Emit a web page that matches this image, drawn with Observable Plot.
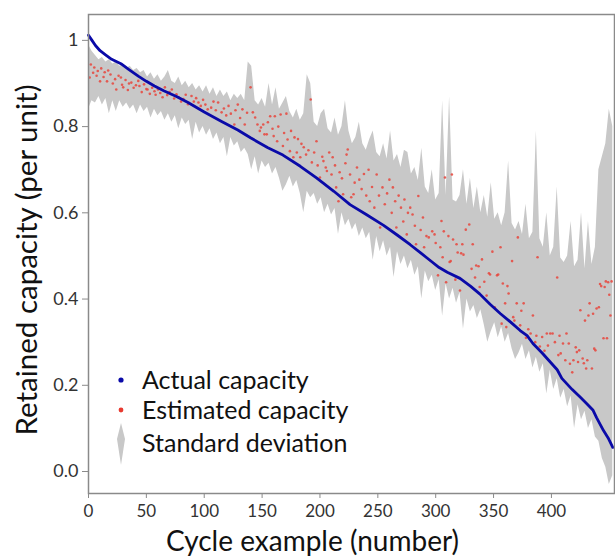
<!DOCTYPE html>
<html>
<head>
<meta charset="utf-8">
<script src="https://cdn.jsdelivr.net/npm/d3@7"></script>
<script src="https://cdn.jsdelivr.net/npm/@observablehq/plot@0.6"></script>
<style>
  html, body { margin: 0; padding: 0; background: #fff; }
  #wrap { position: relative; width: 615px; height: 559px; font-family: Lato, "Open Sans", sans-serif; }
  .lg { position: absolute; color: #111; font-size: 25px; line-height: 25px; white-space: nowrap; }
  .mk { position: absolute; }
</style>
</head>
<body>
<div id="wrap">
  <div id="chart"></div>
  <svg class="mk" style="left:114px;top:373px" width="14" height="14"><circle cx="7" cy="7" r="2.6" fill="#0a0aa8"/></svg>
  <div class="lg" style="left:142px;top:367px">Actual capacity</div>
  <svg class="mk" style="left:114px;top:403px" width="14" height="14"><circle cx="7" cy="7" r="2.4" fill="#e83a30"/></svg>
  <div class="lg" style="left:142px;top:397px">Estimated capacity</div>
  <svg class="mk" style="left:114px;top:423px" width="14" height="44"><polygon points="7,0 11,16 7,42 3,16" fill="#c8c8c8"/></svg>
  <div class="lg" style="left:142px;top:430px">Standard deviation</div>
</div>
<script>
// ---- data ----
const actualCycles = [0,3,6,10,15,20,28,35,43,50,57,65,76,86,100,115,129,140,155,168,183,197,212,226,240,255,267,278,287,295,303,310,321,330,338,347,356,365,373,379,384,392,398,405,409,418,425,431,436,439,445,449,453];
const actualValues = [1.012,1.0,0.988,0.976,0.966,0.956,0.946,0.932,0.917,0.905,0.894,0.883,0.870,0.856,0.834,0.812,0.792,0.774,0.751,0.734,0.708,0.681,0.650,0.619,0.596,0.571,0.548,0.526,0.507,0.490,0.473,0.462,0.448,0.430,0.412,0.388,0.366,0.346,0.327,0.315,0.297,0.275,0.257,0.236,0.216,0.190,0.172,0.156,0.142,0.125,0.095,0.078,0.056];

const estCycles = [1,2,4,5,7,8,10,11,13,14,16,17,19,21,23,24,26,28,29,30,32,34,35,37,39,41,43,44,46,48,50,51,53,55,57,58,60,62,64,66,68,70,72,74,76,78,80,82,84,86,89,91,93,95,97,99,101,103,106,108,110,112,115,117,119,121,123,126,127,129,131,133,135,137,140,142,144,146,148,149,151,152,154,155,157,159,160,161,163,164,166,168,169,171,172,174,175,177,178,180,181,183,184,186,188,190,192,193,195,197,198,200,202,203,205,206,208,210,211,213,214,216,217,219,220,222,223,224,226,227,229,230,232,234,236,238,240,242,243,245,247,249,251,252,254,256,258,260,262,263,265,266,268,270,272,273,275,276,278,280,282,283,285,287,289,290,292,294,295,297,299,300,302,304,305,306,307,308,309,311,312,313,314,315,317,318,319,321,322,323,324,326,329,331,332,334,335,337,338,340,342,344,346,347,349,351,353,354,356,357,358,360,361,362,363,366,367,368,370,371,373,374,376,378,380,382,384,386,387,388,390,392,394,396,397,399,401,403,405,406,407,408,410,412,413,415,416,418,419,421,422,423,424,425,427,428,429,430,431,432,433,435,436,437,438,439,441,442,443,445,446,447,448,449,450,451,452];
const estValues = [0.914,0.944,0.925,0.937,0.918,0.929,0.905,0.935,0.915,0.926,0.905,0.93,0.921,0.9,0.91,0.886,0.918,0.914,0.897,0.891,0.908,0.885,0.9,0.902,0.89,0.896,0.906,0.894,0.88,0.898,0.887,0.886,0.876,0.89,0.882,0.874,0.886,0.878,0.868,0.891,0.873,0.88,0.886,0.865,0.875,0.868,0.858,0.864,0.874,0.852,0.871,0.858,0.866,0.856,0.848,0.862,0.851,0.84,0.844,0.858,0.838,0.856,0.833,0.842,0.826,0.848,0.83,0.805,0.838,0.851,0.82,0.84,0.805,0.832,0.891,0.833,0.821,0.805,0.79,0.798,0.805,0.782,0.782,0.81,0.824,0.795,0.778,0.824,0.766,0.80,0.828,0.755,0.785,0.83,0.77,0.743,0.79,0.729,0.775,0.74,0.771,0.729,0.76,0.752,0.735,0.745,0.863,0.717,0.74,0.766,0.71,0.682,0.73,0.72,0.705,0.697,0.74,0.689,0.729,0.71,0.659,0.627,0.694,0.68,0.643,0.715,0.735,0.747,0.689,0.636,0.643,0.67,0.705,0.677,0.655,0.69,0.64,0.70,0.627,0.66,0.612,0.689,0.64,0.566,0.659,0.62,0.645,0.677,0.6,0.659,0.627,0.566,0.64,0.612,0.58,0.631,0.55,0.6,0.612,0.596,0.57,0.527,0.639,0.56,0.589,0.52,0.546,0.543,0.49,0.557,0.55,0.53,0.455,0.52,0.581,0.497,0.557,0.682,0.439,0.546,0.486,0.488,0.689,0.538,0.445,0.527,0.508,0.42,0.506,0.527,0.503,0.561,0.573,0.47,0.527,0.45,0.478,0.476,0.428,0.492,0.44,0.408,0.46,0.457,0.51,0.381,0.455,0.457,0.52,0.343,0.436,0.39,0.335,0.43,0.413,0.488,0.358,0.35,0.39,0.543,0.339,0.373,0.39,0.31,0.33,0.32,0.362,0.3,0.315,0.497,0.29,0.312,0.28,0.32,0.292,0.32,0.32,0.3,0.45,0.27,0.315,0.274,0.297,0.258,0.32,0.297,0.25,0.23,0.258,0.288,0.277,0.254,0.281,0.374,0.262,0.251,0.35,0.239,0.258,0.362,0.39,0.239,0.366,0.285,0.281,0.378,0.381,0.435,0.43,0.309,0.428,0.441,0.309,0.439,0.41,0.362,0.441];

const bandCycles = [0,3,6,9,12,15,18,21,24,27,30,33,36,39,42,45,48,51,54,57,60,63,66,69,72,75,78,81,84,87,90,93,96,99,102,105,108,111,114,117,120,123,126,129,132,135,138,141,144,147,150,153,156,159,162,165,168,171,174,177,180,183,186,189,192,195,198,201,204,207,210,213,216,219,222,225,228,231,234,237,240,243,246,249,252,255,258,261,264,267,270,273,276,279,282,285,288,291,294,297,300,303,306,309,312,315,318,321,324,327,330,333,336,339,342,345,348,351,354,357,360,363,366,369,372,375,378,381,384,387,390,393,396,399,402,405,408,411,414,417,420,423,426,429,432,435,438,441,444,447,450,453];
const bandUpper = [0.99,0.975,0.965,0.955,0.96,0.95,0.955,0.945,0.95,0.94,0.945,0.935,0.94,0.93,0.935,0.925,0.93,0.915,0.925,0.91,0.92,0.905,0.915,0.93,0.905,0.9,0.915,0.895,0.905,0.89,0.9,0.885,0.895,0.88,0.895,0.875,0.89,0.87,0.885,0.87,0.88,0.86,0.875,0.865,0.875,0.86,0.95,0.94,0.86,0.85,0.865,0.845,0.9,0.85,0.89,0.84,0.855,0.87,0.835,0.82,0.84,0.815,0.83,0.92,0.9,0.81,0.8,0.83,0.84,0.795,0.785,0.82,0.78,0.8,0.86,0.79,0.76,0.775,0.81,0.76,0.745,0.77,0.79,0.74,0.73,0.76,0.725,0.79,0.72,0.735,0.705,0.745,0.74,0.69,0.705,0.675,0.75,0.66,0.645,0.7,0.63,0.645,0.86,0.64,0.87,0.63,0.625,0.64,0.7,0.62,0.68,0.61,0.66,0.6,0.64,0.59,0.67,0.585,0.6,0.57,0.6,0.72,0.575,0.56,0.58,0.55,0.62,0.54,0.555,0.79,0.54,0.52,0.6,0.5,0.52,0.66,0.495,0.485,0.5,0.58,0.475,0.49,0.6,0.47,0.58,0.48,0.52,0.7,0.73,0.76,0.84,0.8];
const bandLower = [0.84,0.86,0.855,0.87,0.85,0.865,0.83,0.86,0.835,0.86,0.845,0.855,0.84,0.85,0.83,0.85,0.835,0.845,0.82,0.84,0.825,0.835,0.815,0.83,0.81,0.825,0.795,0.82,0.805,0.815,0.77,0.81,0.785,0.8,0.78,0.795,0.77,0.785,0.76,0.775,0.73,0.775,0.755,0.765,0.74,0.75,0.735,0.7,0.73,0.69,0.72,0.705,0.715,0.69,0.705,0.68,0.65,0.665,0.685,0.66,0.675,0.645,0.6,0.65,0.635,0.645,0.62,0.635,0.6,0.62,0.595,0.61,0.55,0.6,0.57,0.585,0.56,0.575,0.545,0.565,0.54,0.555,0.49,0.545,0.51,0.535,0.5,0.52,0.45,0.51,0.48,0.5,0.47,0.49,0.455,0.475,0.4,0.465,0.44,0.455,0.42,0.445,0.36,0.435,0.4,0.425,0.39,0.415,0.33,0.4,0.37,0.385,0.355,0.375,0.34,0.3,0.325,0.345,0.31,0.335,0.3,0.32,0.285,0.26,0.275,0.295,0.26,0.28,0.24,0.265,0.23,0.25,0.18,0.235,0.19,0.215,0.17,0.19,0.15,0.175,0.1,0.155,0.12,0.14,0.1,0.12,0.08,0.07,0.03,0.01,-0.03,-0.01];

const xTicks = [0,50,100,150,200,250,300,350,400];
const yTicks = [0,0.2,0.4,0.6,0.8,1];
const yTickLabels = ["0.0","0.2","0.4","0.6","0.8","1"];

// ---- tables ----
const actual = actualCycles.map((c,i) => ({c, v: actualValues[i]}));
const est = estCycles.map((c,i) => ({c, v: estValues[i]}));
const band = bandCycles.map((c,i) => ({c, lo: bandLower[i], hi: bandUpper[i]}));

const chart = Plot.plot({
  width: 615,
  height: 559,
  marginLeft: 88,
  marginRight: 1,
  marginTop: 14,
  marginBottom: 66,
  style: {fontFamily: "Lato, 'Open Sans', sans-serif", background: "#fff"},
  x: {domain: [0, 454.5]},
  y: {domain: [-0.051, 1.06]},
  marks: [
    Plot.areaY(band, {x: "c", y1: "lo", y2: "hi", fill: "#c8c8c8", curve: "linear"}),
    Plot.dot(est, {x: "c", y: "v", r: 1.3, fill: "#e8453c", fillOpacity: 0.85, stroke: "none"}),
    Plot.line(actual, {x: "c", y: "v", stroke: "#0a0aa8", strokeWidth: 2.8}),
    Plot.frame({stroke: "#8a8a8a", strokeWidth: 1.5}),
    Plot.axisX({ticks: xTicks, tickSize: 5, tickPadding: 6, fontSize: 17, stroke: "#8a8a8a", fill: "#333", label: null}),
    Plot.axisY({ticks: yTicks, tickFormat: (d) => yTickLabels[yTicks.indexOf(d)], tickSize: 6, tickPadding: 4, fontSize: 18, stroke: "#8a8a8a", fill: "#333", label: null}),
    Plot.text(["Cycle example (number)"], {frameAnchor: "bottom", lineAnchor: "middle", textAnchor: "middle", dx: -39, dy: 49, fontSize: 28, fill: "#111"}),
    Plot.text(["Retained capacity (per unit)"], {frameAnchor: "left", lineAnchor: "middle", textAnchor: "middle", dx: -61, dy: 6, rotate: -90, fontSize: 29.5, fill: "#111"})
  ]
});
document.getElementById("chart").appendChild(chart);
</script>
</body>
</html>
